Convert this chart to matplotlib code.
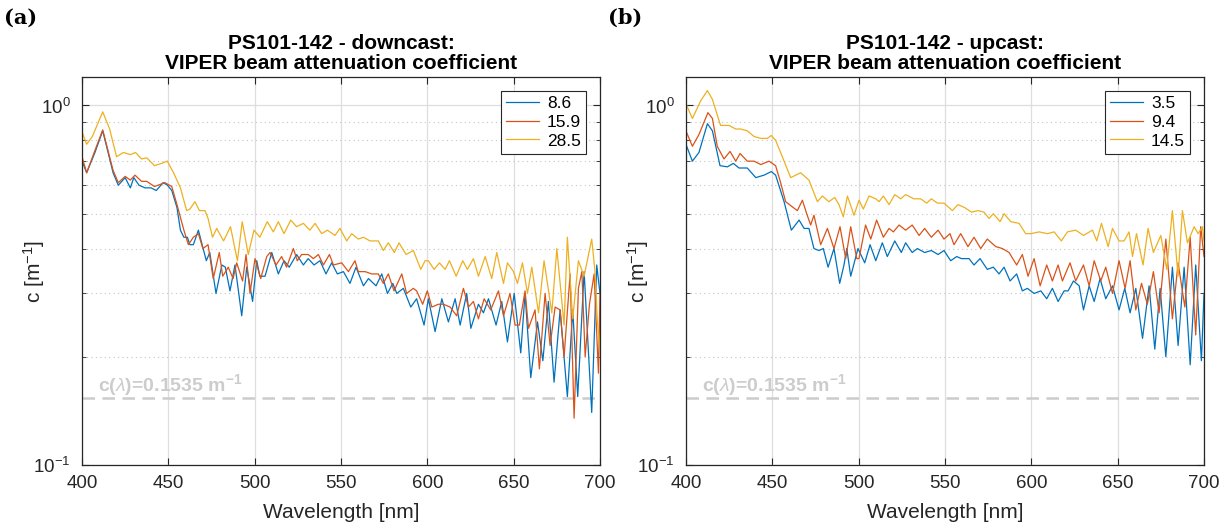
import matplotlib
matplotlib.use("Agg")
import matplotlib.pyplot as plt
from matplotlib.ticker import LogLocator, NullFormatter, MultipleLocator

plt.rcParams['font.family'] = ['Liberation Sans', 'DejaVu Sans']
plt.rcParams['mathtext.fontset'] = 'custom'
plt.rcParams['mathtext.rm'] = 'Liberation Sans'
plt.rcParams['mathtext.it'] = 'Liberation Sans:italic'

# ---- data (wavelength nm, c in 1/m) ----
wl_down_86 = [400, 402.7, 407.5, 412, 418, 421, 425, 428, 430, 433, 436.5, 440, 443, 447, 449.5,
              452, 455, 457, 459, 461, 462.5, 464.5, 467.4, 472, 474, 477.6, 481, 483, 485.7,
              488.6, 492.5, 495.4, 498.8, 501.2, 503, 506, 509.9, 513.7, 517, 520, 524.3, 528.2,
              531, 534.4, 537.8, 541.3, 544.6, 547.9, 551.4, 555.2, 558.7, 563, 565.9, 570.3,
              573.6, 576.9, 580, 582.3, 586.1, 590.4, 593.8, 598.1, 600.6, 604.5, 608.4, 612.2,
              616.1, 619, 622.8, 625.2, 629.6, 632.5, 635.4, 639.8, 643.1, 646.4, 650.3, 654.1,
              656.6, 659.9, 663.8, 666.9, 670.1, 673.4, 676.9, 681.1, 684.2, 687.1, 690.8, 695.2,
              698.1, 700]
c_down_86 = [0.70, 0.65, 0.74, 0.85, 0.65, 0.60, 0.63, 0.59, 0.63, 0.60, 0.59, 0.59, 0.58, 0.61, 0.60,
             0.58, 0.52, 0.45, 0.43, 0.43, 0.41, 0.41, 0.45, 0.37, 0.39, 0.30, 0.36, 0.355, 0.305,
             0.36, 0.26, 0.355, 0.285, 0.37, 0.335, 0.335, 0.39, 0.34, 0.37, 0.355, 0.385, 0.36,
             0.375, 0.36, 0.37, 0.34, 0.365, 0.34, 0.345, 0.32, 0.355, 0.315, 0.33, 0.315,
             0.34, 0.30, 0.32, 0.30, 0.31, 0.275, 0.29, 0.245, 0.29, 0.235, 0.29, 0.25,
             0.29, 0.245, 0.30, 0.24, 0.28, 0.265, 0.29, 0.245, 0.285, 0.22, 0.30, 0.205,
             0.30, 0.175, 0.25, 0.195, 0.285, 0.17, 0.27, 0.155, 0.27, 0.155, 0.345, 0.14,
             0.36, 0.30]

wl_down_159 = [400, 402.7, 407.5, 412, 418, 421, 425, 428, 430.7, 434.5, 437.5, 442, 448, 452, 455,
               459, 461.6, 464.5, 467.4, 470, 473, 476, 479.5, 481.5, 484.7, 487.5, 489.6, 493, 495,
               497.3, 500.2, 503.5, 507, 508.9, 512.4, 515.6, 518.5, 522.4, 524.7, 527.2, 531, 534,
               536.9, 539.8, 543.3, 545.6, 550.4, 554.3, 558.1, 560, 564, 567.8, 571.6, 574.5, 577.4,
               580.7, 585.2, 588, 591.9, 593.8, 597.3, 600, 602.6, 606.4, 609.3, 613.2, 617, 620.9,
               623.8, 626.7, 629.6, 632.9, 636.7, 641.2, 644.1, 647.9, 650.8, 653.3, 656.6, 658.6,
               662.4, 664.9, 668.2, 671.1, 674, 676.9, 679.2, 682.7, 685, 687.5, 689.5, 691.4, 693.9,
               696.6, 699.1, 700]
c_down_159 = [0.72, 0.65, 0.75, 0.855, 0.66, 0.61, 0.635, 0.62, 0.64, 0.615, 0.615, 0.595, 0.61, 0.595, 0.53,
              0.45, 0.41, 0.43, 0.44, 0.40, 0.41, 0.33, 0.39, 0.335, 0.355, 0.33, 0.365, 0.325, 0.385,
              0.30, 0.375, 0.33, 0.38, 0.39, 0.36, 0.38, 0.355, 0.40, 0.37, 0.385, 0.385, 0.375,
              0.385, 0.36, 0.385, 0.36, 0.365, 0.345, 0.37, 0.345, 0.345, 0.34, 0.34, 0.32, 0.34,
              0.305, 0.34, 0.30, 0.31, 0.305, 0.28, 0.305, 0.275, 0.28, 0.28, 0.275, 0.26, 0.31,
              0.275, 0.285, 0.255, 0.29, 0.27, 0.305, 0.26, 0.30, 0.245, 0.245, 0.305, 0.24,
              0.27, 0.185, 0.30, 0.215, 0.275, 0.27, 0.20, 0.34, 0.135, 0.31, 0.345, 0.20, 0.28,
              0.34, 0.18, 0.30]

wl_down_285 = [400, 402.7, 406, 412, 416, 420, 424, 428, 431, 434.5, 437.5, 442, 446, 449.4, 453,
               457, 460.6, 462.5, 465.4, 468, 471.2, 473, 475.6, 478, 482, 486, 490, 492.8, 496.3,
               499.6, 503, 507.3, 510.8, 513.7, 517, 520.9, 524.3, 528.2, 532, 535, 538.8, 542.1,
               546.5, 549.4, 553.3, 556.2, 560, 563, 566.8, 571.6, 574.5, 577.4, 580.9, 583.6, 587.7,
               591.9, 596.2, 598.7, 600.6, 603.9, 607, 610.3, 612.8, 616.7, 620.5, 623.2, 626.7,
               629.6, 633.5, 637.3, 640.2, 644.1, 646.4, 649.9, 652.2, 655.1, 658, 660.5, 664.4,
               667.6, 672.1, 675, 679.2, 681.1, 684.2, 687.5, 690.8, 695.2, 697, 698.5, 700]
c_down_285 = [0.845, 0.78, 0.82, 0.96, 0.86, 0.72, 0.74, 0.73, 0.74, 0.71, 0.715, 0.68, 0.69, 0.70, 0.65,
              0.59, 0.51, 0.515, 0.54, 0.51, 0.51, 0.485, 0.43, 0.455, 0.42, 0.46, 0.37, 0.475, 0.385,
              0.45, 0.43, 0.475, 0.445, 0.475, 0.44, 0.48, 0.46, 0.47, 0.45, 0.47, 0.44, 0.45,
              0.435, 0.455, 0.42, 0.44, 0.425, 0.43, 0.42, 0.42, 0.395, 0.415, 0.39, 0.415, 0.385,
              0.395, 0.35, 0.37, 0.37, 0.35, 0.365, 0.35, 0.37, 0.335, 0.37, 0.35, 0.375,
              0.335, 0.38, 0.33, 0.39, 0.32, 0.365, 0.345, 0.32, 0.365, 0.30, 0.355, 0.265,
              0.37, 0.265, 0.40, 0.245, 0.43, 0.255, 0.37, 0.335, 0.425, 0.35, 0.25, 0.21]

wl_up_35 = [400.4, 403.7, 407.5, 412.4, 415.3, 419.7, 424, 427.4, 430.7, 435.5, 440.4, 445.2, 449.4,
            451.9, 456.8, 461, 465.5, 468.4, 471.2, 474.1, 477, 479.5, 482.3, 485.7, 489, 491.5,
            493.1, 495.4, 499.6, 503.5, 506.6, 509.9, 513.7, 516.6, 520.9, 524.7, 527.2, 531, 534,
            538.2, 542.1, 546, 549.4, 553.3, 556.8, 559.5, 563.9, 566.8, 570.3, 574.5, 578, 581.3,
            584.2, 587.7, 591.5, 594.8, 597.7, 601.6, 605.5, 608.9, 612.2, 615.5, 619, 621.3,
            624.4, 627.7, 630.2, 633.5, 636.4, 639.8, 643.1, 647, 650.8, 654.1, 657.2, 660.5,
            664.4, 668.2, 671.5, 674.6, 677.9, 681.7, 685, 688.5, 692, 695.2, 698.5, 700]
c_up_35 = [0.77, 0.70, 0.74, 0.89, 0.85, 0.68, 0.675, 0.69, 0.67, 0.67, 0.63, 0.64, 0.655,
           0.64, 0.54, 0.45, 0.48, 0.455, 0.455, 0.40, 0.395, 0.40, 0.355, 0.40, 0.32, 0.36,
           0.40, 0.335, 0.40, 0.365, 0.41, 0.37, 0.415, 0.38, 0.42, 0.39, 0.415, 0.39, 0.40,
           0.39, 0.395, 0.385, 0.395, 0.37, 0.38, 0.375, 0.375, 0.36, 0.375, 0.35, 0.355, 0.34,
           0.355, 0.325, 0.34, 0.305, 0.31, 0.30, 0.305, 0.29, 0.31, 0.285, 0.305, 0.305,
           0.325, 0.315, 0.27, 0.315, 0.285, 0.33, 0.29, 0.315, 0.27, 0.31, 0.265, 0.31,
           0.225, 0.315, 0.21, 0.31, 0.20, 0.355, 0.215, 0.355, 0.19, 0.36, 0.195, 0.30]

wl_up_94 = [400.4, 403.7, 407.5, 412.7, 415.3, 418.1, 422, 425.5, 428.8, 431.3, 435.5, 439.4, 443.3,
            448.1, 451.9, 454.8, 457.7, 461, 464.5, 467.4, 469.9, 472.2, 474.1, 478, 481.9, 485.7,
            489.2, 492.5, 495.4, 498.9, 500.2, 504, 507, 510.4, 514.3, 517.6, 520.1, 523.4, 527.2,
            531, 535, 538.2, 542.1, 546, 549.4, 552.9, 555.2, 559.1, 563.3, 566.8, 570.7, 574.5,
            579.4, 583.2, 587.1, 591.5, 594.8, 598.1, 601.6, 605.1, 608.9, 612.2, 615.5, 618,
            622.4, 625.7, 630.2, 633.5, 636.4, 640.2, 643.1, 647, 650.8, 654.3, 657.2, 660.5,
            663.8, 667.2, 670.7, 674, 677.9, 681.7, 685, 688.9, 692, 695.2, 698.1, 700]
c_up_94 = [0.84, 0.77, 0.83, 0.955, 0.92, 0.77, 0.71, 0.745, 0.70, 0.735, 0.70, 0.70, 0.685,
           0.70, 0.68, 0.61, 0.54, 0.525, 0.51, 0.545, 0.50, 0.465, 0.495, 0.41, 0.455, 0.40,
           0.46, 0.375, 0.46, 0.375, 0.375, 0.465, 0.425, 0.48, 0.43, 0.455, 0.445, 0.465, 0.45,
           0.465, 0.435, 0.455, 0.43, 0.45, 0.425, 0.44, 0.41, 0.44, 0.405, 0.43, 0.40, 0.425,
           0.405, 0.40, 0.39, 0.36, 0.385, 0.335, 0.375, 0.315, 0.36, 0.325, 0.36, 0.325,
           0.365, 0.325, 0.36, 0.315, 0.37, 0.325, 0.355, 0.30, 0.37, 0.31, 0.37, 0.27,
           0.32, 0.28, 0.345, 0.265, 0.425, 0.255, 0.365, 0.275, 0.43, 0.23, 0.46, 0.38]

wl_up_145 = [400.4, 403.7, 408.5, 412.4, 415.3, 420, 424.9, 428.8, 431.7, 435.5, 439.4, 443.3, 447.1,
             449.4, 451.9, 455.8, 460.6, 463.5, 466.4, 471.2, 476.1, 479, 482.8, 486.1, 488.6, 491.1,
             493.5, 497.3, 500.2, 502.7, 506, 509.9, 511.8, 514.3, 517.6, 520.9, 524.3, 527.2, 532,
             535.9, 539.4, 542.1, 545.6, 549.4, 554.3, 557.5, 561.4, 565.3, 569.1, 572.6, 575.5,
             578, 581.9, 584.2, 588.1, 592.9, 596.7, 599.7, 604.5, 609.3, 613.2, 617.4, 620.9,
             625.7, 630.2, 635.4, 637.9, 640.6, 644.5, 647, 650.8, 653.7, 656.6, 658.6, 660.9,
             664.7, 667.6, 670.7, 675, 678.4, 681.7, 685, 687.5, 690.4, 694.3, 696.6, 699.1, 700]
c_up_145 = [1.0, 0.92, 1.03, 1.1, 1.04, 0.88, 0.88, 0.86, 0.86, 0.85, 0.82, 0.81, 0.81,
            0.825, 0.80, 0.72, 0.63, 0.64, 0.65, 0.62, 0.54, 0.56, 0.54, 0.555, 0.53, 0.49,
            0.56, 0.495, 0.545, 0.515, 0.56, 0.55, 0.54, 0.56, 0.53, 0.565, 0.55, 0.565, 0.55,
            0.55, 0.535, 0.55, 0.535, 0.535, 0.51, 0.53, 0.52, 0.505, 0.51, 0.505, 0.485,
            0.50, 0.475, 0.50, 0.475, 0.47, 0.44, 0.44, 0.445, 0.44, 0.445, 0.42, 0.445,
            0.45, 0.435, 0.45, 0.42, 0.47, 0.405, 0.455, 0.42, 0.42, 0.445, 0.38, 0.44,
            0.36, 0.455, 0.39, 0.435, 0.35, 0.51, 0.335, 0.51, 0.415, 0.46, 0.44, 0.46, 0.42]

c_ref = 0.1535
colors = ['#0072BD', '#D95319', '#EDB120']

panels = [
    ('(a)', 'PS101-142 - downcast:\nVIPER beam attenuation coefficient',
     [(wl_down_86, c_down_86, '8.6'), (wl_down_159, c_down_159, '15.9'), (wl_down_285, c_down_285, '28.5')],
     82),
    ('(b)', 'PS101-142 - upcast:\nVIPER beam attenuation coefficient',
     [(wl_up_35, c_up_35, '3.5'), (wl_up_94, c_up_94, '9.4'), (wl_up_145, c_up_145, '14.5')],
     686),
]

W, H = 1231, 527
fig = plt.figure(figsize=(W / 100, H / 100), dpi=100)
axcol = '#262626'

for tag, title, series, x0 in panels:
    ax = fig.add_axes([x0 / W, 62 / H, 518 / W, 388 / H])
    for (wl, c, lab), col in zip(series, colors):
        ax.plot(wl, c, color=col, lw=0.9, label=lab)
    ax.axhline(c_ref, color='#cccccc', lw=1.8, ls=(0, (5, 3)), zorder=1)
    ax.text(409, 0.167, r'c($\lambda$)=0.1535 m$^{\mathdefault{-1}}$', color='#cccccc',
            fontsize=14, fontweight='bold', va='center', ha='left')

    ax.set_yscale('log')
    ax.set_xlim(400, 700)
    ax.set_ylim(0.1, 1.2)
    ax.xaxis.set_major_locator(MultipleLocator(50))
    ax.yaxis.set_major_locator(LogLocator(base=10, numticks=5))
    ax.yaxis.set_minor_locator(LogLocator(base=10, subs=range(2, 10), numticks=10))
    ax.yaxis.set_minor_formatter(NullFormatter())

    ax.grid(True, which='major', color='#dedede', lw=0.9)
    ax.grid(True, which='minor', axis='y', color='#c4c4c4', lw=0.8, ls=(0, (1, 3)))
    ax.set_axisbelow(True)

    ax.tick_params(which='both', direction='in', top=True, right=True, colors=axcol,
                   labelsize=13.5, labelcolor='#262626')
    ax.tick_params(which='major', length=5, width=0.8)
    ax.tick_params(which='minor', length=3, width=0.6)
    ax.tick_params(axis='x', pad=7)
    ax.tick_params(axis='y', pad=8)
    for sp in ax.spines.values():
        sp.set_color(axcol)
        sp.set_linewidth(0.9)

    ax.set_xlabel('Wavelength [nm]', fontsize=15, color='#262626', labelpad=8)
    ax.set_ylabel(r'c [m$^{\mathdefault{-1}}$]', fontsize=15, color='#262626')
    ax.yaxis.set_label_coords(-0.068, 0.5)
    ax.set_title(title, fontsize=15, fontweight='bold', color='black', pad=6, linespacing=1.05)

    leg = ax.legend(loc='upper right', fontsize=12.5, handlelength=1.9, borderaxespad=0.8,
                    fancybox=False, framealpha=1, edgecolor=axcol, labelspacing=0.2,
                    borderpad=0.3, handletextpad=0.45)
    leg.get_frame().set_linewidth(0.8)

    fig.text((x0 - 78) / W, 1 - 18 / H, tag, fontsize=15, fontweight='bold',
             family='DejaVu Serif', va='center', ha='left')

fig.savefig('out.png', dpi=100)
